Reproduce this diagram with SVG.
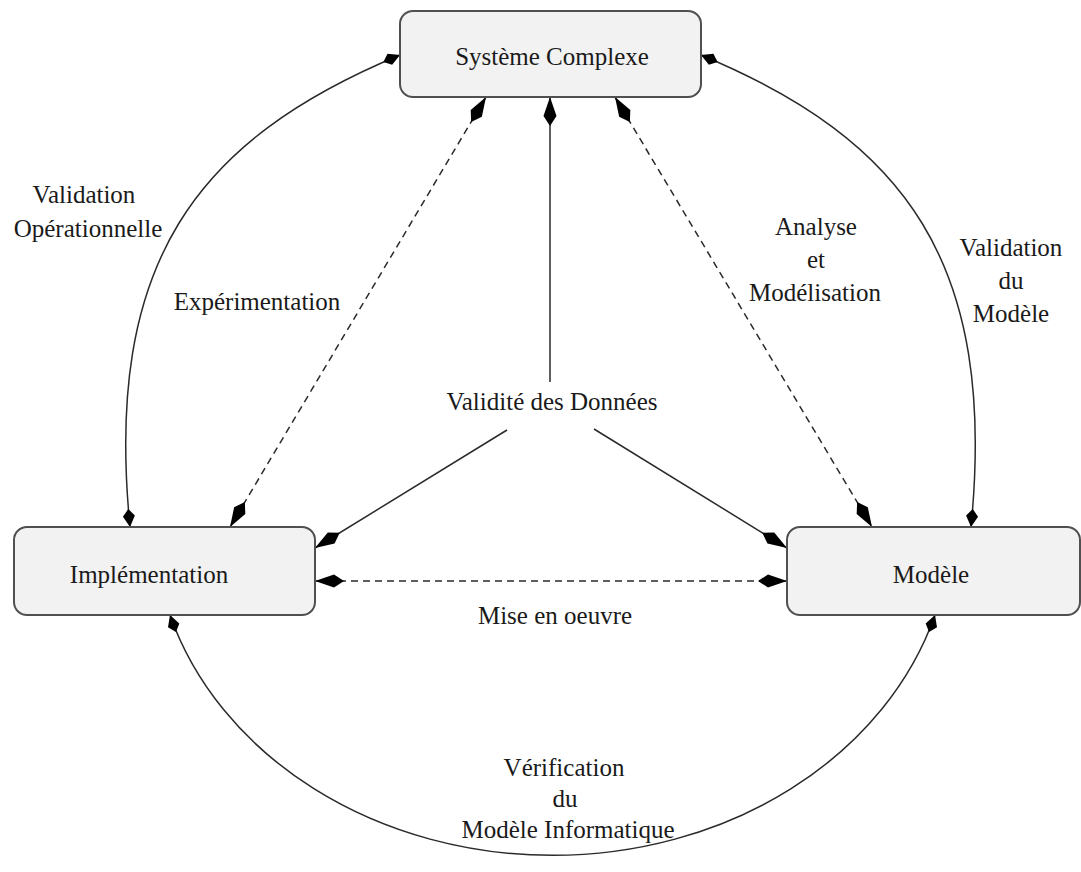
<svg xmlns="http://www.w3.org/2000/svg" width="1081" height="872" viewBox="0 0 1081 872">
  <style>
    .box { fill: #f2f2f2; stroke: #505050; stroke-width: 2; }
    .lbl { font-family: "Liberation Serif", "Times New Roman", serif; font-size: 25px; fill: #1a1a1a; text-anchor: middle; }
    .edge { fill: none; stroke: #2a2a2a; stroke-width: 1.5; }
    .dash { stroke-dasharray: 7 5; }
  </style>
  <defs>
    <!-- kite-shaped heads; tip sits on the path end -->
    <marker id="kite" viewBox="-30 -7 31 14" refX="0" refY="0" markerWidth="31" markerHeight="14" markerUnits="userSpaceOnUse" orient="auto-start-reverse">
      <path d="M0,0 L-19,-6.5 L-29,0 L-19,6.5 Z" fill="#000"/>
    </marker>
    <marker id="kite-s" viewBox="-19 -7 20 14" refX="0" refY="0" markerWidth="20" markerHeight="14" markerUnits="userSpaceOnUse" orient="auto-start-reverse">
      <path d="M0,0 L-11,-6 L-18,0 L-11,6 Z" fill="#000"/>
    </marker>
  </defs>

  <rect width="1081" height="872" fill="#fff"/>

  <g id="connectors">
    <!-- outer arcs -->
    <path class="edge" d="M400,55 C196,140 104,262 130,527" marker-start="url(#kite-s)" marker-end="url(#kite-s)"/>
    <path class="edge" d="M701,55 C905,140 997,262 971,527" marker-start="url(#kite-s)" marker-end="url(#kite-s)"/>
    <path class="edge" d="M170,615 A399,336 0 0 0 935,615" marker-start="url(#kite-s)" marker-end="url(#kite-s)"/>
    <!-- inner triangle -->
    <path class="edge dash" d="M486,97 L230,527" marker-start="url(#kite)" marker-end="url(#kite)"/>
    <path class="edge dash" d="M615,97 L872,527" marker-start="url(#kite)" marker-end="url(#kite)"/>
    <path class="edge dash" d="M315,581 L787,581" marker-start="url(#kite)" marker-end="url(#kite)"/>
    <!-- data validity spokes -->
    <path class="edge" d="M550,382 L550,97" marker-end="url(#kite)"/>
    <path class="edge" d="M507,430 L315,548" marker-end="url(#kite)"/>
    <path class="edge" d="M594,429 L787,548" marker-end="url(#kite)"/>
  </g>

  <g id="systeme-complexe">
    <rect class="box" x="400" y="11" width="301" height="86" rx="13"/>
    <text class="lbl" x="552" y="65">Système Complexe</text>
  </g>

  <g id="implementation">
    <rect class="box" x="14" y="527" width="301" height="88" rx="13"/>
    <text class="lbl" x="149" y="583">Implémentation</text>
  </g>

  <g id="modele">
    <rect class="box" x="787" y="527" width="293" height="88" rx="13"/>
    <text class="lbl" x="931" y="583">Modèle</text>
  </g>

  <g id="labels">
    <text class="lbl" x="84" y="203">Validation</text>
    <text class="lbl" x="88" y="237">Opérationnelle</text>
    <text class="lbl" x="257" y="310">Expérimentation</text>
    <text class="lbl" x="816" y="235">Analyse</text>
    <text class="lbl" x="816" y="268">et</text>
    <text class="lbl" x="815" y="301">Modélisation</text>
    <text class="lbl" x="1011" y="256">Validation</text>
    <text class="lbl" x="1011" y="289">du</text>
    <text class="lbl" x="1011" y="322">Modèle</text>
    <text class="lbl" x="552" y="410">Validité des Données</text>
    <text class="lbl" x="555" y="624">Mise en oeuvre</text>
    <text class="lbl" x="564" y="776">Vérification</text>
    <text class="lbl" x="565" y="807">du</text>
    <text class="lbl" x="568" y="838">Modèle Informatique</text>
  </g>
</svg>
